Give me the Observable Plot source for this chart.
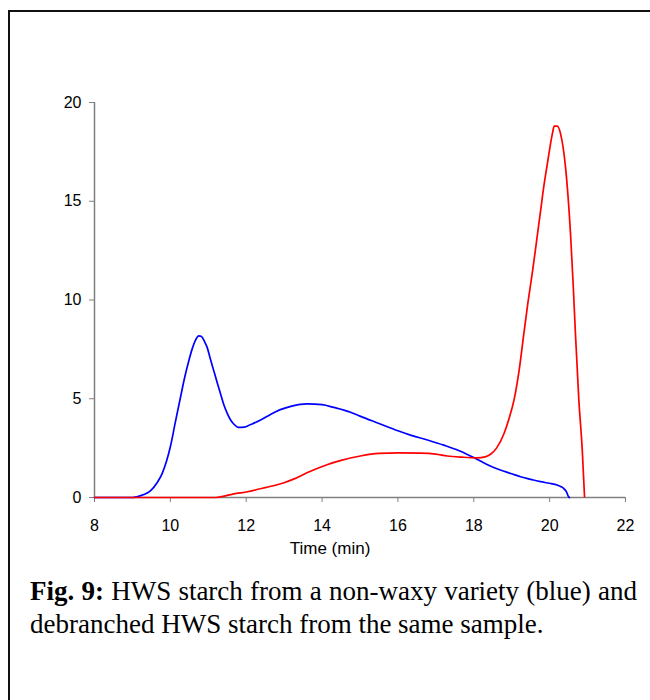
<!DOCTYPE html>
<html>
<head>
<meta charset="utf-8">
<script src="https://cdn.jsdelivr.net/npm/d3@7"></script>
<script src="https://cdn.jsdelivr.net/npm/@observablehq/plot@0.6"></script>
<style>
  html, body { margin: 0; padding: 0; background: #fff; }
  #frame { position: relative; width: 650px; height: 700px; overflow: hidden; background: #fff; }
  #border { position: absolute; left: 8px; top: 10px; width: 660px; height: 700px;
            border-top: 2px solid #111; border-left: 2px solid #111; box-sizing: border-box; }
  #chart { position: absolute; left: 0; top: 0; }
  #caption { position: absolute; left: 30px; top: 575px; width: 607px;
             font-family: "Liberation Serif", "Times New Roman", serif; font-size: 27px;
             line-height: 33px; text-align: justify; color: #000; }
</style>
</head>
<body>
<div id="frame">
  <div id="border"></div>
  <div id="chart"></div>
  <div id="caption"><b>Fig. 9:</b> HWS starch from a non-waxy variety (blue) and debranched HWS starch from the same sample.</div>
</div>
<script>
// Blue: HWS starch (non-waxy)
const blueTime = [8.0, 9.0, 9.12, 9.3, 9.48, 9.65, 9.78, 9.9, 10.0, 10.13, 10.27, 10.38, 10.49, 10.58, 10.66, 10.75, 10.82, 10.9, 10.97, 11.05, 11.14, 11.23, 11.32, 11.41, 11.5, 11.58, 11.67, 11.8, 11.95, 12.1, 12.38, 12.65, 12.9, 13.2, 13.6, 14.0, 14.31, 14.75, 15.0, 15.5, 16.0, 16.33, 16.8, 17.21, 17.6, 18.0, 18.2, 18.45, 18.7, 19.0, 19.23, 19.5, 19.76, 20.0, 20.2, 20.3, 20.37, 20.44, 20.5, 20.52];
const blueValue = [0, 0, 0.04, 0.15, 0.35, 0.75, 1.2, 1.85, 2.57, 3.8, 5.1, 6.1, 6.95, 7.55, 7.95, 8.18, 8.15, 7.9, 7.6, 7.05, 6.45, 5.85, 5.27, 4.7, 4.26, 3.95, 3.72, 3.55, 3.56, 3.68, 3.92, 4.22, 4.45, 4.63, 4.74, 4.7, 4.56, 4.32, 4.12, 3.75, 3.38, 3.16, 2.9, 2.65, 2.38, 2.02, 1.82, 1.58, 1.39, 1.2, 1.05, 0.92, 0.8, 0.72, 0.63, 0.55, 0.46, 0.3, 0.04, 0];

// Red: debranched HWS starch
const redTime = [8.0, 11.2, 11.45, 11.67, 12.0, 12.5, 13.0, 13.25, 13.6, 14.13, 14.5, 15.01, 15.5, 16.0, 16.6, 17.0, 17.3, 17.7, 18.08, 18.3, 18.45, 18.6, 18.8, 18.93, 19.06, 19.2, 19.32, 19.43, 19.54, 19.65, 19.76, 19.85, 19.94, 20.07, 20.12, 20.2, 20.29, 20.42, 20.55, 20.62, 20.68, 20.77, 20.86, 20.92];
const redValue = [0, 0, 0.08, 0.18, 0.28, 0.5, 0.75, 0.93, 1.25, 1.66, 1.88, 2.1, 2.23, 2.26, 2.25, 2.2, 2.1, 2.04, 2.01, 2.06, 2.2, 2.5, 3.25, 4.0, 4.93, 6.5, 8.3, 9.9, 11.33, 12.9, 14.5, 15.8, 16.9, 18.4, 18.8, 18.8, 18.4, 16.7, 13.36, 10.8, 8.3, 4.93, 2.4, 0.04];

const xTicks = [8, 10, 12, 14, 16, 18, 20, 22];
const yTicks = [0, 5, 10, 15, 20];
const xLabel = "Time (min)";

const blue = blueTime.map((t, i) => ({t, v: blueValue[i]}));
const red = redTime.map((t, i) => ({t, v: redValue[i]}));

const chart = Plot.plot({
  width: 650,
  height: 560,
  marginLeft: 94,
  marginRight: 25,
  marginTop: 102,
  marginBottom: 63,
  style: {fontFamily: "'Liberation Sans', Arial, sans-serif", fontSize: "16px", background: "transparent", overflow: "visible"},
  x: {domain: [8, 22], label: null},
  y: {domain: [0, 20], label: null},
  marks: [
    Plot.axisX({ticks: xTicks, tickSize: 5, tickPadding: 17, stroke: "#808080", fill: "#000", label: null, fontSize: 16}),
    Plot.axisY({ticks: yTicks, tickSize: 5, tickPadding: 8, stroke: "#808080", fill: "#000", label: null, fontSize: 16}),
    Plot.ruleX([8], {stroke: "#808080", strokeWidth: 1.5}),
    Plot.ruleY([0], {stroke: "#808080", strokeWidth: 1.5}),
    Plot.line(blue, {x: "t", y: "v", stroke: "#0000ff", strokeWidth: 1.7, curve: "monotone-x"}),
    Plot.line(red, {x: "t", y: "v", stroke: "#ff0000", strokeWidth: 1.7, curve: "monotone-x"}),
    Plot.text([xLabel], {frameAnchor: "bottom", dy: 56, dx: -30, text: d => d, fontSize: 17, fill: "#000"})
  ]
});
document.getElementById("chart").appendChild(chart);
</script>
</body>
</html>
